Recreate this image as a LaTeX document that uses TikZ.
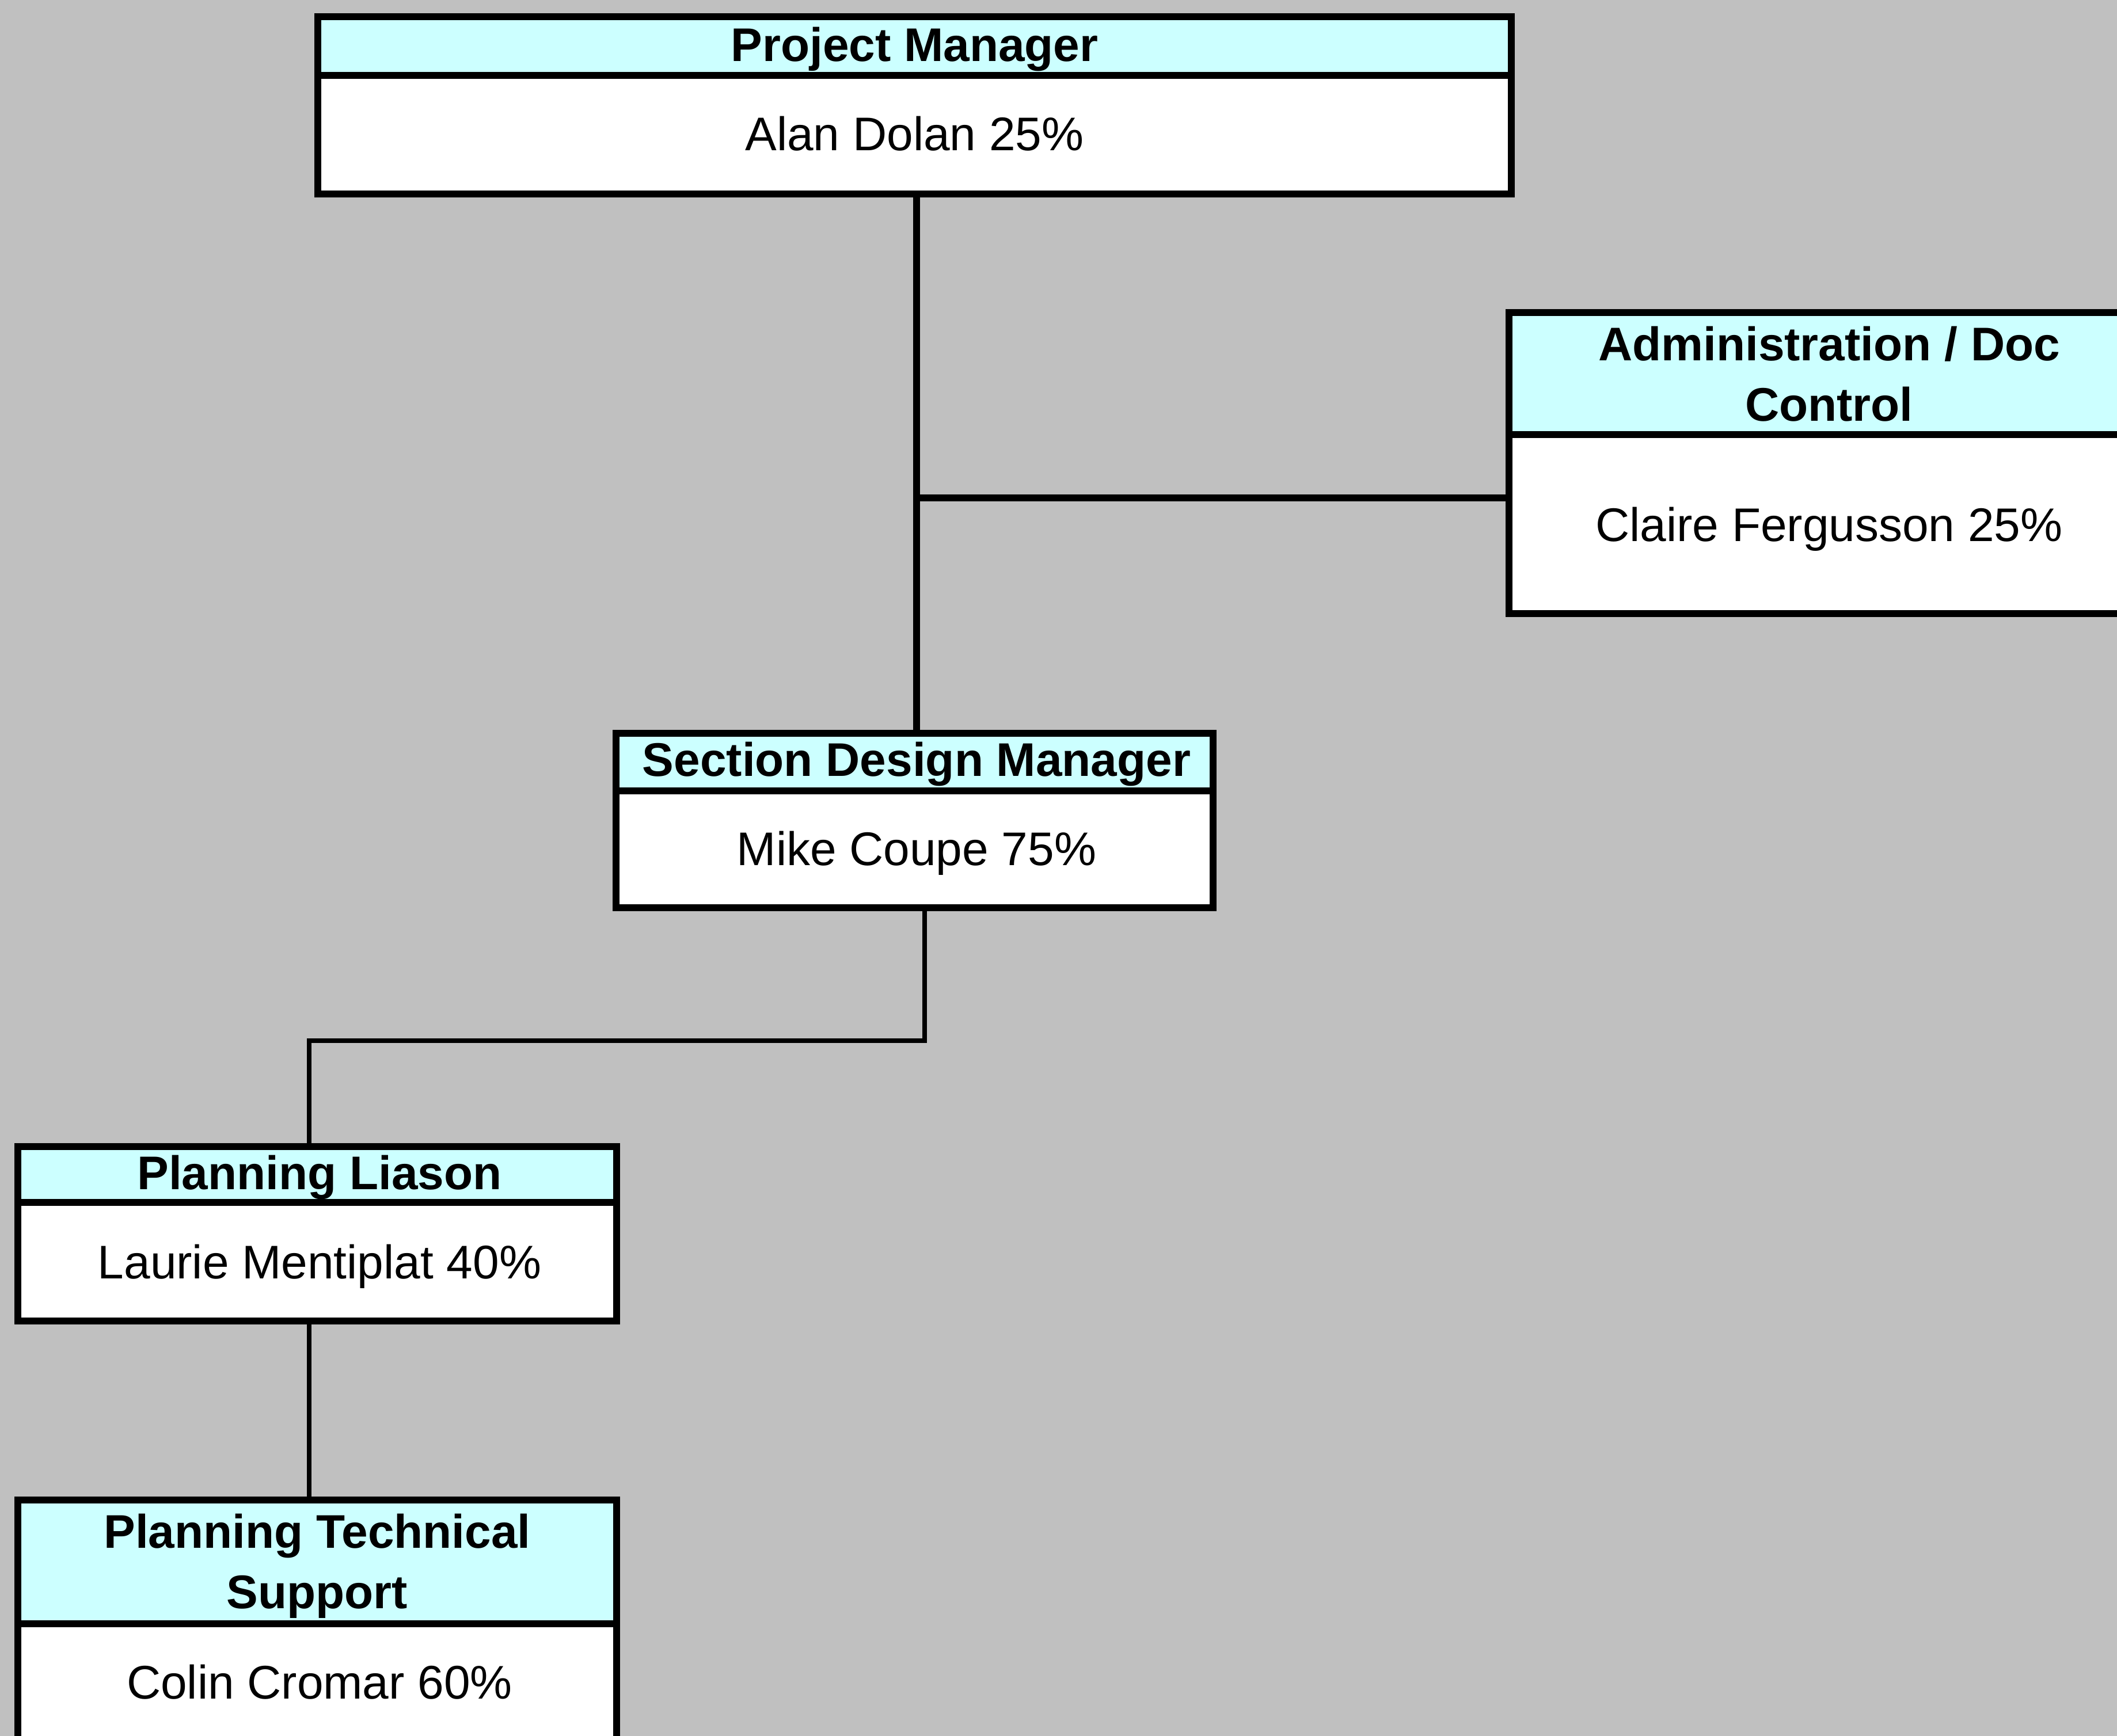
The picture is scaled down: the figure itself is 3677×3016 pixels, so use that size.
\documentclass[tikz,border=0pt]{standalone}
\usepackage{fontspec}
\setmainfont{Liberation Sans}
\definecolor{bggray}{RGB}{192,192,192}
\definecolor{hdrfill}{RGB}{204,255,255}
\tikzset{
  orgbox/.style={rectangle, draw=black, line width=3pt, fill=white, inner sep=0pt},
  hdr/.style={path picture={
      \fill[hdrfill] (path picture bounding box.north west) rectangle ([yshift=-#1]path picture bounding box.north east);
      \draw[line width=3pt] ([yshift=-#1]path picture bounding box.north west) -- ([yshift=-#1]path picture bounding box.north east);}},
  htext/.style={font=\fontsize{20.5}{26.25}\selectfont\bfseries, align=center, inner sep=0pt},
  btext/.style={font=\fontsize{20.5}{26.25}\selectfont, align=center, inner sep=0pt},
  mainlink/.style={line width=2.8pt},
  sublink/.style={line width=1.8pt}
}
\begin{document}
\begin{tikzpicture}[x=0.25pt, y=-0.25pt]
\fill[bggray] (0,0) rectangle (3677,3016);
\useasboundingbox (0,0) rectangle (3677,3016);
\clip (0,0) rectangle (3677,3016);

% boxes
\node[orgbox, hdr=25.5pt, minimum width=518.25pt, minimum height=77pt] (pm) at (1588.5,183) {};
\node[orgbox, hdr=53pt, minimum width=277pt, minimum height=130.75pt] (adm) at (3175,804.5) {};
\node[orgbox, hdr=25pt, minimum width=259.25pt, minimum height=75.75pt] (sdm) at (1588.5,1425.5) {};
\node[orgbox, hdr=24.25pt, minimum width=260pt, minimum height=75.75pt] (pl) at (551,2143.5) {};
\node[orgbox, hdr=53.75pt, minimum width=260pt, minimum height=124.5pt] (pts) at (551,2855) {};

% texts
\node[htext] (pmh) at (1588.5,85) {Project Manager};
\node[btext] (pmb) at (1588.5,232) {Alan Dolan 25\%};
\node[htext] (admh) at (3177,650) {Administration / Doc\\Control};
\node[btext] (admb) at (3177,919) {Claire Fergusson 25\%};
\node[htext] (sdmh) at (1592,1327) {Section Design Manager};
\node[btext] (sdmb) at (1592,1482) {Mike Coupe 75\%};
\node[htext] (plh) at (555,2045) {Planning Liason};
\node[btext] (plb) at (555,2200) {Laurie Mentiplat 40\%};
\node[htext] (ptsh) at (551,2721) {Planning Technical\\Support};
\node[btext] (ptsb) at (555,2922) {Colin Cromar 60\%};

% connectors
\coordinate (br) at (1592,865);
\coordinate (k1) at (1606,1808);
\coordinate (k2) at (537,1808);
\draw[mainlink] (pm.south -| br) -- (sdm.north -| br);
\draw[mainlink] (br) -- (adm.west |- br);
\draw[sublink] (sdm.south -| k1) -- (k1) -- (k2) -- (k2 |- pl.north);
\draw[sublink] (pl.south -| k2) -- (k2 |- pts.north);
\end{tikzpicture}
\end{document}
